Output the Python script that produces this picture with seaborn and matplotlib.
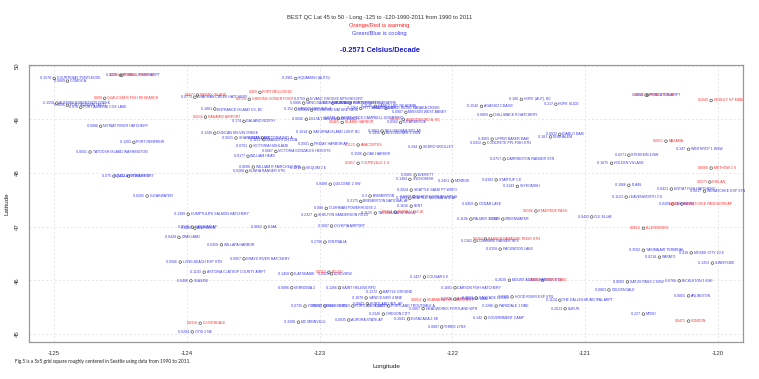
import matplotlib
matplotlib.use("Agg")
import matplotlib.pyplot as plt
import seaborn as sns
import pandas as pd

# ---------------- data ----------------
names = [
    "COURTENAY PUNTLEDGE", "COMOX A", "POWELL RIVER AIRPT", "POWELL RIVER A",
    "QUALICUM R FISH RESEARCH", "ALBERNI ROBERTSON CREEK", "PORT ALBERNI (AUT)",
    "PORT ALBERNI COX LAKE", "MERRY ISLAND", "CHAPMAN CREEK HATCHERY", "PORT MELLON BC",
    "GIBSONS GOWER POINT", "ENTRANCE ISLAND CS, BC", "NANAIMO AIRPORT", "GALIANO NORTH",
    "DUNCAN KELVIN CREEK", "SHAWNIGAN LAKE", "VICTORIA INTL A", "SAANICHTON CDA",
    "VICTORIA HIGHLAND", "VICTORIA GONZALES HEIGHTS", "WILLIAM HEAD",
    "WILLIAM R FAIRCHILD INTL", "ELWHA RANGER STN", "SEQUIM 2 E", "SQUAMISH (AUTO)",
    "N VANC GROUSE MTN RESORT", "VANCOUVER HARBOUR CS", "BURNABY SIMON FRASER U",
    "PORT MOODY GLENAYRE", "VANCOUVER INTL A", "RICHMOND NATURE PARK", "PITT MEADOWS CS",
    "HANEY UBC RF ADMIN", "MAPLE RIDGE KANAKA CREEK", "MISSION WEST ABBEY",
    "DELTA TSAWWASSEN BEACH", "WHITE ROCK CAMPBELL SCIENTIFIC", "BLAINE HARBOR",
    "ABBOTSFORD A, BC", "CLEARBROOK", "CHILLIWACK R HATCHERY", "AGASSIZ CDA BC",
    "HOPE (AUT), BC", "HOPE SLIDE", "PRINCETON AIRPT", "PRINCETON A", "HEDLEY NP MINE",
    "SATURNA ISLAND LIGHT BC", "FRIDAY HARBOR AP", "BELLINGHAM INTL AP", "BELLINGHAM 3 SSW",
    "ANACORTES", "OAK HARBOR", "COUPEVILLE 1 S", "SEDRO WOOLLEY", "UPPER BAKER DAM",
    "CONCRETE PPL FISH STN", "DARRINGTON RANGER STN", "NEWHALEM", "DIABLO DAM", "MAZAMA",
    "WINTHROP 1 WSW", "STEHEKIN 4 NW", "HOLDEN VILLAGE", "METHOW 2 S", "CHELAN", "PLAIN",
    "ENTIAT FISH HATCHERY", "WENATCHEE EXP STN", "LEAVENWORTH 3 S", "CASHMERE",
    "WENATCHEE PANGBORN AP", "CLE ELUM", "ELLENSBURG", "YAKIMA AIR TERMINAL",
    "MOXEE CITY 10 E", "WAPATO", "SUNNYSIDE", "SATUS PASS 2 SSW", "GOLDENDALE",
    "BICKLETON 1 ESE", "ARLINGTON", "MORO", "CONDON", "THE DALLES MUNICIPAL ARPT", "DUFUR",
    "HOOD RIVER EXP STN", "PARKDALE 1 NNE", "GOVERNMENT CAMP", "MOUNT ADAMS RANGER STN",
    "TROUT LAKE", "COUGAR 6 E", "CARSON FISH HATCHERY", "SKAMANIA FISH HATCHERY",
    "BONNEVILLE DAM", "CASCADE LOCKS", "HEADWORKS PORTLAND WTR", "ESTACADA 2 SE",
    "THREE LYNX", "BATTLE GROUND", "VANCOUVER 4 NNE", "PORTLAND INTL AP",
    "PORTLAND TROUTDALE A", "PORTLAND KGW TV", "HILLSBORO", "FOREST GROVE", "OREGON CITY",
    "AURORA STATE AP", "MC MINNVILLE", "VERNONIA 2", "SAINT HELENS RFD", "CLATSKANIE",
    "LONGVIEW", "KELSO", "CENTRALIA", "OLYMPIA AIRPORT", "ELMA", "WILLAPA HARBOR",
    "GRAYS RIVER HATCHERY", "ASTORIA CLATSOP COUNTY AIRPT", "SEASIDE", "CLOVERDALE",
    "OTIS 2 NE", "LONG BEACH EXP STN", "ABERDEEN", "HOQUIAM AP", "GRAYLAND",
    "HUMPTULIPS SALMON HATCHERY", "CLEARWATER", "QUILLAYUTE AIRPORT", "FORKS 1 E",
    "TATOOSH ISLAND WASHINGTON", "PORT RENFREW", "NITINAT RIVER HATCHERY",
    "SHELTON SANDERSON FIELD", "CUSHMAN POWERHOUSE 2", "QUILCENE 2 SW", "BREMERTON",
    "BREMERTON NATIONAL AP", "TACOMA NARROWS AP", "PUYALLUP 2 W", "SEATTLE SAND PT WSFO",
    "SEATTLE TACOMA INTL AP", "SEATTLE BOEING FIELD", "KENT", "EVERETT", "SNOHOMISH",
    "MONROE", "STARTUP 1 E", "SKYKOMISH", "CEDAR LAKE", "PALMER 3 ESE", "GREENWATER",
    "STAMPEDE PASS", "RAINIER PARADISE RNGR STN", "LONGMIRE RAINIER NPS", "PACKWOOD LAKE",
]

lons = [
    -125.00, -124.90, -124.50, -124.49, -124.62, -124.98, -124.90, -124.80, -123.92, -123.94,
    -123.45, -123.53, -123.79, -123.86, -123.57, -123.79, -123.63, -123.43, -123.42, -123.52,
    -123.33, -123.54, -123.50, -123.55, -123.12, -123.18, -123.09, -123.12, -122.90, -122.77,
    -123.18, -123.06, -122.69, -122.58, -122.50, -122.35, -123.10, -122.86, -122.83, -122.37,
    -122.39, -121.71, -121.78, -121.48, -121.22, -120.54, -120.53, -120.05, -123.07, -123.06,
    -122.53, -122.52, -122.71, -122.66, -122.71, -122.24, -121.70, -121.76, -121.61, -121.26,
    -121.19, -120.39, -120.22, -120.67, -120.80, -120.05, -120.06, -120.67, -120.35, -120.10,
    -120.69, -120.34, -120.27, -120.95, -120.56, -120.56, -120.20, -120.44, -120.04, -120.68,
    -120.82, -120.29, -120.22, -120.56, -120.22, -121.19, -121.15, -121.55, -121.67, -121.75,
    -121.57, -121.32, -122.21, -121.98, -122.21, -121.98, -121.82, -122.22, -122.33, -122.08,
    -122.54, -122.65, -122.64, -122.48, -122.75, -122.96, -123.11, -122.52, -122.78, -123.16,
    -123.21, -122.85, -123.21, -122.91, -122.93, -122.96, -122.91, -123.41, -123.74, -123.57,
    -123.87, -123.97, -123.90, -123.96, -124.05, -123.94, -123.96, -124.06, -123.99, -124.30,
    -124.55, -124.44, -124.73, -124.40, -124.65, -123.03, -122.95, -122.92, -122.62, -122.69,
    -122.58, -122.43, -122.31, -122.32, -122.29, -122.31, -122.28, -122.32, -122.00, -121.67,
    -121.51, -121.82, -121.86, -121.62, -121.37, -121.75, -121.83, -121.64,
]

lats = [
    49.76, 49.71, 49.82, 49.82, 49.39, 49.30, 49.26, 49.22, 49.45, 49.41,
    49.50, 49.37, 49.19, 49.04, 48.96, 48.74, 48.65, 48.65, 48.62, 48.50,
    48.40, 48.31, 48.11, 48.03, 48.09, 49.76, 49.37, 49.30, 49.30, 49.30,
    49.19, 49.17, 49.20, 49.24, 49.20, 49.13, 49.00, 49.02, 48.94, 49.00,
    48.94, 49.07, 49.24, 49.37, 49.28, 49.45, 49.45, 49.35, 48.76, 48.53,
    48.78, 48.74, 48.52, 48.35, 48.18, 48.48, 48.63, 48.55, 48.26, 48.67,
    48.72, 48.59, 48.44, 48.33, 48.18, 48.09, 47.83, 47.77, 47.70, 47.66,
    47.55, 47.42, 47.42, 47.18, 46.97, 46.56, 46.51, 46.43, 46.32, 45.97,
    45.82, 45.99, 45.71, 45.37, 45.24, 45.63, 45.47, 45.69, 45.52, 45.30,
    46.00, 46.00, 46.06, 45.86, 45.63, 45.65, 45.67, 45.47, 45.28, 45.13,
    45.78, 45.67, 45.56, 45.52, 45.52, 45.52, 45.52, 45.37, 45.26, 45.22,
    45.86, 45.86, 46.12, 46.12, 46.15, 46.71, 47.01, 46.99, 46.66, 46.40,
    46.15, 45.99, 45.20, 45.04, 46.34, 46.97, 46.99, 46.80, 47.23, 47.57,
    47.94, 47.94, 48.39, 48.57, 48.87, 47.21, 47.34, 47.79, 47.57, 47.47,
    47.25, 47.27, 47.68, 47.53, 47.56, 47.38, 47.96, 47.88, 47.85, 47.87,
    47.75, 47.42, 47.14, 47.14, 47.29, 46.77, 46.73, 46.58,
]

trends = [
    -0.1578, -0.0869, -0.1226, 0.0193, 0.0880, -0.1558, -0.0686, -0.078, 0.0677, -0.0772,
    0.0690, 0.0728, -0.1881, 0.0216, -0.174, -0.1249, -0.0621, -0.0433, -0.1112, -0.0781,
    -0.0667, -0.0177, -0.0608, -0.0268, -0.1218, -0.2961, -0.0759, -0.0886, -0.1117, -0.0511,
    -0.152, -0.0938, -0.1264, -0.1145, -0.1327, -0.0907, -0.0585, -0.0747, 0.0465, 0.0165,
    -0.0562, -0.0869, -0.1542, -0.1080, -0.217, -0.0892, 0.0226, 0.1943, -0.1014, -0.0931,
    -0.3063, -0.1456, 0.1123, -0.1506, 0.1857, -0.244, -0.4903, -0.0352, -0.0757, -0.181,
    -0.0932, 0.0051, -0.347, -0.0271, -0.1075, 0.0688, 0.0271, -0.1066, -0.0421, -0.0817,
    -0.1123, -0.0209, 0.0312, -0.0432, 0.0612, -0.3582, -0.4180, -0.0218, -0.1353, -0.0683,
    -0.0863, -0.0768, -0.0855, -0.2270, 0.0471, -0.1124, -0.2013, -0.0325, -0.2286, -0.142,
    -0.3639, 0.0392, -0.1427, -0.1681, 0.0854, -0.0726, -0.2031, -0.0867, -0.2041, -0.0887,
    -0.1372, -0.1078, -0.0802, -0.1025, -0.0563, -0.0412, -0.0735, -0.2349, -0.0835, -0.3288,
    -0.0886, -0.1266, -0.1458, -0.0921, 0.0112, -0.2706, -0.2687, -0.0663, -0.0358, -0.0957,
    -0.1103, -0.0496, 0.0318, -0.0284, -0.0566, -0.0207, -0.0536, -0.0428, -0.1389, -0.0265,
    -0.075, -0.0412, -0.0601, -0.1202, -0.0886, -0.2327, -0.0880, -0.0498, -0.3, -0.2175,
    -0.1125, 0.0434, -0.2024, -0.1301, -0.0887, -0.1616, -0.0985, -0.1484, -0.2451, -0.0302,
    -0.3143, -0.0459, -0.1106, -0.2029, 0.0186, 0.0263, -0.2161, -0.0158,
]

x_ticks = [-125, -124, -123, -122, -121, -120]
y_ticks = [45, 46, 47, 48, 49, 50]
overall_trend = "-0.2571"

title_lines = [
    "BEST QC Lat 45 to 50 - Long -125 to -120-1990-2011 from 1990 to 2011",
    "Orange/Red is warming",
    "Green/Blue is cooling",
]
caption = "Fig.5 is a 5x5 grid square roughly centered in Seattle using data from 1990 to 2011."

df = pd.DataFrame({"lon": lons, "lat": lats, "trend": trends, "name": names})

# ---------------- style ----------------
sns.set_style("white")
plt.rcParams["font.family"] = ["Liberation Sans", "DejaVu Sans"]

RED = "#ff3333"
BLUE = "#3a3aee"

fig = plt.figure(figsize=(7.59, 3.79), dpi=100)
ax = fig.add_axes([0.0382, 0.0976, 0.9407, 0.7309])

sns.scatterplot(data=df, x="lon", y="lat", ax=ax, marker="o", s=3.5,
                facecolor="none", edgecolor="#444444", linewidth=0.45, zorder=3)

for _, r in df.iterrows():
    col = RED if r["trend"] > 0 else BLUE
    ax.annotate(f"{r['trend']}", (r["lon"], r["lat"]), xytext=(-1.6, 0),
                textcoords="offset points", ha="right", va="center",
                fontsize=2.5, color=col, zorder=4)
    ax.annotate(r["name"], (r["lon"], r["lat"]), xytext=(1.8, 0),
                textcoords="offset points", ha="left", va="center",
                fontsize=2.5, color=col, zorder=4)

ax.set_xlim(-125.19, -119.81)
ax.set_ylim(44.85, 50.01)
ax.set_xticks(x_ticks)
ax.set_yticks(y_ticks)
ax.set_xticklabels([str(t) for t in x_ticks], fontsize=4.3, color="#333333")
ax.set_yticklabels([str(t) for t in y_ticks], fontsize=4.3, color="#333333",
                   rotation=90, va="center")
ax.tick_params(axis="both", length=2.5, width=0.5, color="#888888", pad=4, direction="out")
ax.grid(True, color="#dddddd", linestyle=(0, (3, 3)), linewidth=0.5)
for sp in ax.spines.values():
    sp.set_color("#999999")
    sp.set_linewidth(0.9)
ax.set_xlabel("Longitude", fontsize=4.6, color="#222222", labelpad=6)
ax.set_ylabel("Latitude", fontsize=4.6, color="#222222", labelpad=4)

# titles
fig.text(0.5, 1 - 18 / 379, title_lines[0], ha="center", va="center",
         fontsize=4.15, color="#333333")
fig.text(0.5, 1 - 26 / 379, title_lines[1], ha="center", va="center",
         fontsize=4.15, color="#ff2020")
fig.text(0.5, 1 - 33.5 / 379, title_lines[2], ha="center", va="center",
         fontsize=4.15, color="#4040ff")
fig.text(0.5, 1 - 51 / 379, f"{overall_trend} Celsius/Decade", ha="center",
         va="center", fontsize=5.2, color="#1a1acc", fontweight="bold")

fig.text(15 / 759, 1 - 362 / 379, caption, ha="left", va="center",
         fontsize=3.4, color="#222222", family=["Lato", "DejaVu Sans"])

fig.savefig("out.png", dpi=100)
